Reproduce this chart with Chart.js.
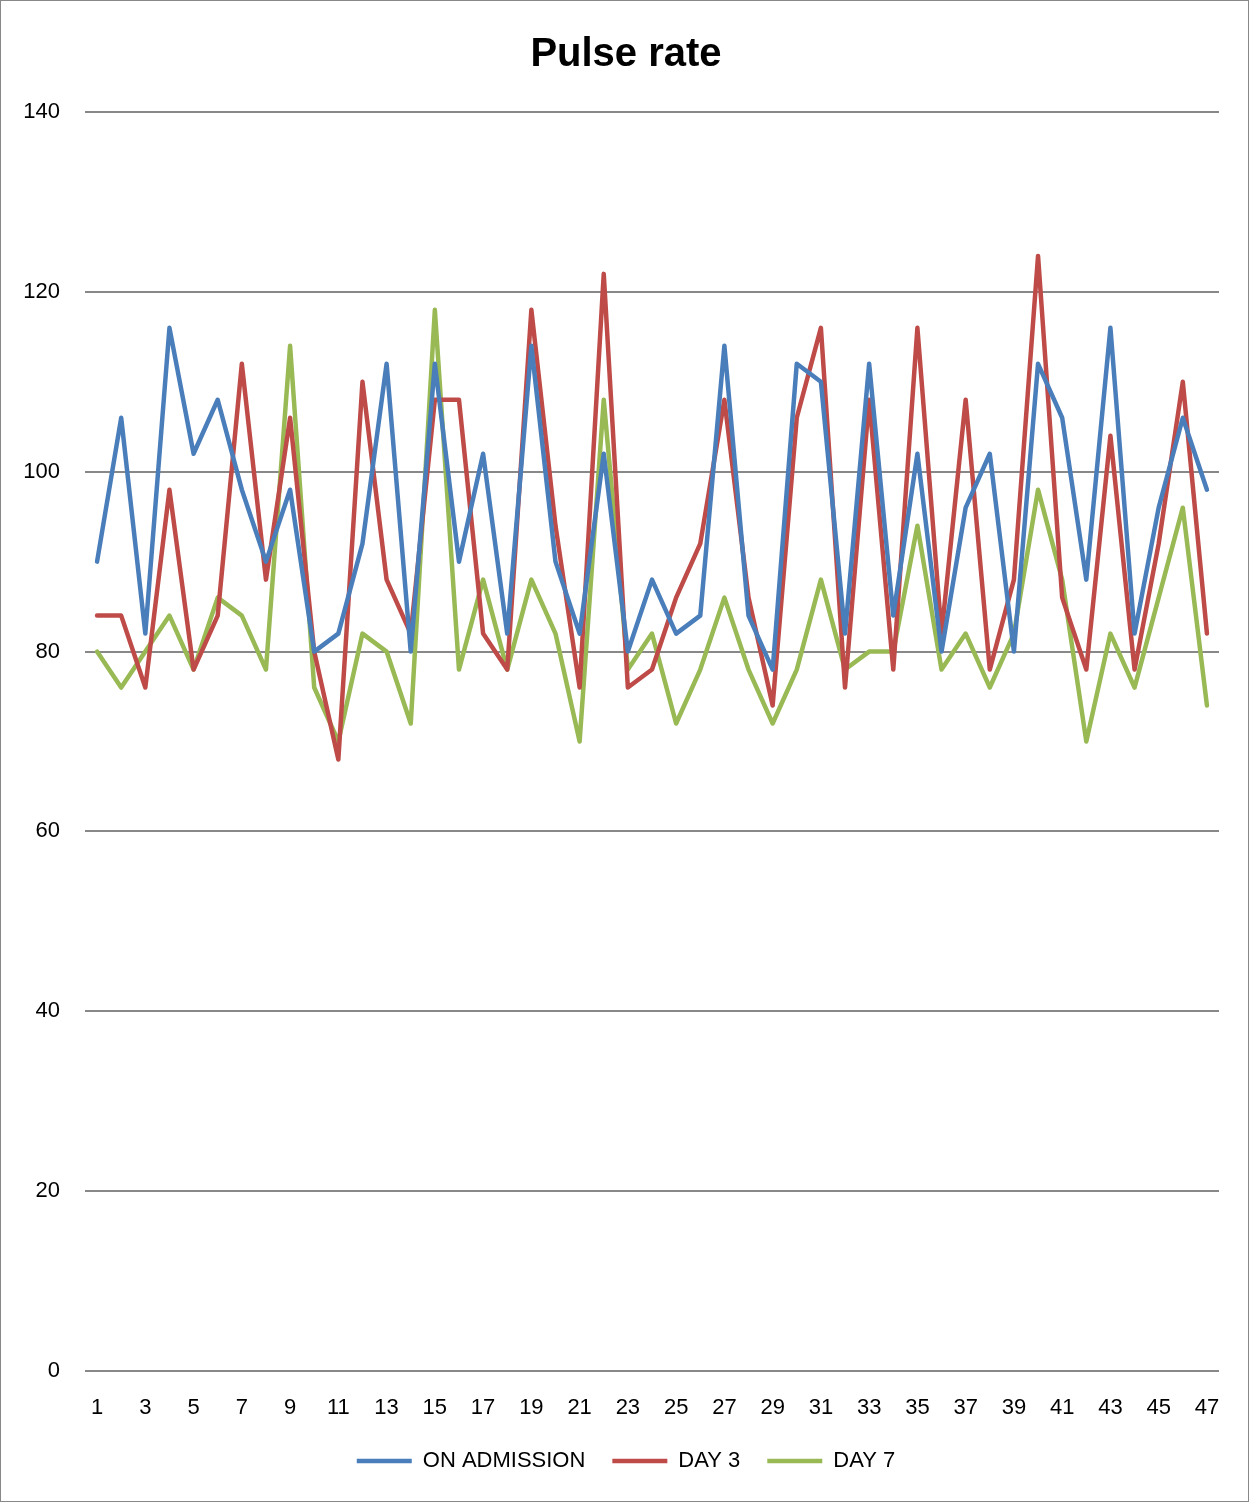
<!DOCTYPE html>
<html>
<head>
<meta charset="utf-8">
<script src="https://cdn.jsdelivr.net/npm/chart.js@4/dist/chart.umd.min.js"></script>
<style>
  html, body { margin: 0; padding: 0; background: #fff; }
  #wrap { position: relative; width: 1249px; height: 1502px; }
  canvas { display: block; }
</style>
</head>
<body>
<div id="wrap"><canvas id="chart" width="1249" height="1502"></canvas></div>
<script>
// Patient numbers along the x axis
const patients = Array.from({ length: 47 }, (_, i) => String(i + 1));

// Pulse rate (beats per minute) per patient
const onAdmission = [90, 106, 82, 116, 102, 108, 98, 90, 98, 80,
                     82, 92, 112, 80, 112, 90, 102, 82, 114, 90,
                     82, 102, 80, 88, 82, 84, 114, 84, 78, 112,
                     110, 82, 112, 84, 102, 80, 96, 102, 80, 112,
                     106, 88, 116, 82, 96, 106, 98];
const day3 = [84, 84, 76, 98, 78, 84, 112, 88, 106, 80,
              68, 110, 88, 82, 108, 108, 82, 78, 118, 94,
              76, 122, 76, 78, 86, 92, 108, 86, 74, 106,
              116, 76, 108, 78, 116, 82, 108, 78, 88, 124,
              86, 78, 104, 78, 92, 110, 82];
const day7 = [80, 76, 80, 84, 78, 86, 84, 78, 114, 76,
              70, 82, 80, 72, 118, 78, 88, 78, 88, 82,
              70, 108, 78, 82, 72, 78, 86, 78, 72, 78,
              88, 78, 80, 80, 94, 78, 82, 76, 82, 98,
              88, 70, 82, 76, 86, 96, 74];

const yTicks = [0, 20, 40, 60, 80, 100, 120, 140];

const FONT = "'Liberation Sans', Arial, sans-serif";

// thin grey outline round the whole chart
const frame = {
  id: 'frame',
  afterDraw(chart) {
    const c = chart.ctx;
    c.save();
    c.strokeStyle = '#888';
    c.lineWidth = 1;
    c.strokeRect(0.5, 0.5, chart.width - 1, chart.height - 1);
    c.restore();
  }
};

function series(label, data, color) {
  return {
    label, data,
    borderColor: color,
    backgroundColor: color,
    borderWidth: 4.5,
    borderCapStyle: 'round',
    borderJoinStyle: 'round',
    pointRadius: 0,
    pointHoverRadius: 0,
    tension: 0,
    fill: false
  };
}

new Chart(document.getElementById('chart'), {
  type: 'line',
  data: {
    labels: patients,
    datasets: [
      series('ON ADMISSION', onAdmission, '#4a7ebb'),
      series('DAY 3', day3, '#be4b48'),
      series('DAY 7', day7, '#98b954')
    ]
  },
  options: {
    responsive: false,
    animation: false,
    events: [],
    layout: { padding: { left: 20, right: 17, top: 0, bottom: 20 } },
    plugins: {
      title: {
        display: true,
        text: 'Pulse rate',
        color: '#000',
        font: { family: FONT, size: 40, weight: 'bold' },
        padding: { top: 31, bottom: 33 }
      },
      legend: {
        position: 'bottom',
        labels: {
          usePointStyle: true,
          pointStyle: 'line',
          pointStyleWidth: 55,
          boxHeight: 22,
          padding: 27,
          color: '#000',
          font: { family: FONT, size: 22 }
        }
      },
      tooltip: { enabled: false }
    },
    scales: {
      x: {
        offset: true,
        grid: { display: false, drawTicks: false },
        border: { display: false },
        ticks: {
          autoSkip: false,
          maxRotation: 0,
          minRotation: 0,
          padding: 24,
          color: '#000',
          font: { family: FONT, size: 22 },
          callback(value, index) { return index % 2 === 0 ? patients[index] : ''; }
        },
        afterFit(scale) { scale.height = 52; }
      },
      y: {
        min: yTicks[0],
        max: yTicks[yTicks.length - 1],
        grid: { color: '#888', lineWidth: 2, drawTicks: false },
        border: { display: false },
        afterBuildTicks(scale) { scale.ticks = yTicks.map(v => ({ value: v })); },
        ticks: {
          padding: 25,
          color: '#000',
          font: { family: FONT, size: 22 }
        },
        afterFit(scale) { scale.width = 65; }
      },
      // empty right-hand margin strip
      yRight: {
        position: 'right',
        min: 0,
        max: 140,
        grid: { display: false, drawTicks: false },
        border: { display: false },
        ticks: { display: false },
        afterFit(scale) { scale.width = 13; }
      }
    }
  },
  plugins: [frame]
});
</script>
</body>
</html>
